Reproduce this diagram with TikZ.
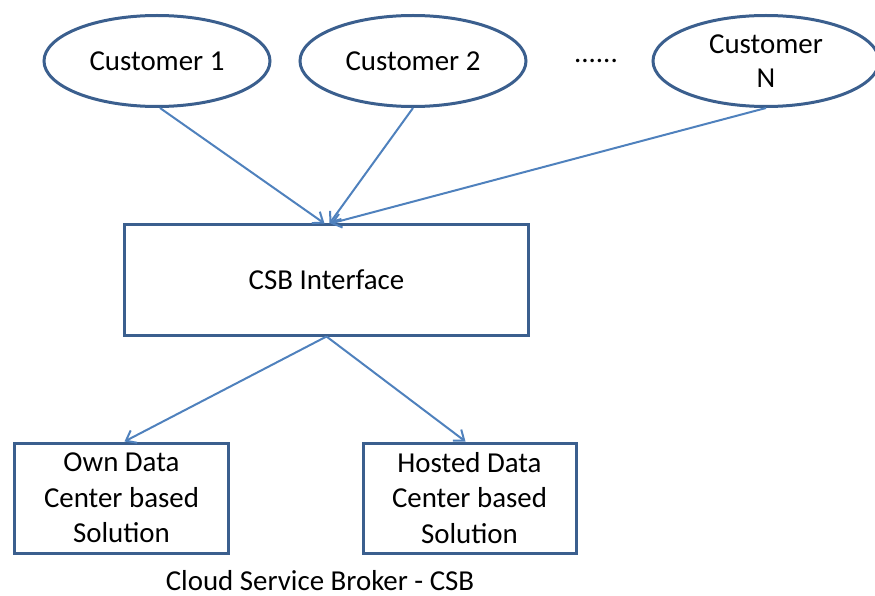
\documentclass[tikz,border=0pt]{standalone}
\usepackage{fontspec}
\setmainfont{Carlito}
\usetikzlibrary{shapes.geometric,arrows.meta}
\definecolor{edgeblue}{HTML}{3B5F8E}
\definecolor{arrowblue}{HTML}{4F81BD}
\tikzset{
  cust/.style={ellipse, draw=edgeblue, line width=3bp, minimum width=226bp, minimum height=91bp, inner sep=0pt, align=center, font=\fontsize{29}{34}\selectfont},
  boxnode/.style={rectangle, draw=edgeblue, line width=3bp, inner sep=0pt, align=center, font=\fontsize{29}{35.5}\selectfont},
  link/.style={draw=arrowblue, line width=2bp, -{Straight Barb[length=9bp,width=14bp,line width=2bp]}},
  lbl/.style={inner sep=0pt, font=\fontsize{29}{35}\selectfont}
}
\begin{document}
\begin{tikzpicture}[x=1bp,y=-1bp]
\useasboundingbox (0,0) rectangle (875,596);
\node[cust] (c1) at (157,61) {Customer 1};
\node[cust] (c2) at (413,61) {Customer 2};
\node[lbl] (dots) at (596,61) {......};
\node[cust] (cn) at (766,61) {Customer\\N};
\node[boxnode, minimum width=403bp, minimum height=110bp] (csb) at (326.5,280) {CSB Interface};
\node[boxnode, minimum width=213bp, minimum height=110bp] (own) at (121.5,498) {Own Data\\Center based\\Solution};
\node[boxnode, minimum width=213bp, minimum height=110bp] (host) at (469.5,498) {Hosted Data\\Center based\\Solution};
\node[lbl, anchor=base] (cap) at (320,590) {Cloud Service Broker - CSB};
\draw[link] ([xshift=3bp]c1.south) -- ([xshift=-2bp]csb.north);
\draw[link] (c2.south) -- ([xshift=3bp]csb.north);
\draw[link] (cn.south) -- ([xshift=4bp]csb.north);
\draw[link] (csb.south) -- ([xshift=3bp]own.north);
\draw[link] (csb.south) -- ([xshift=-4bp]host.north);
\end{tikzpicture}
\end{document}
